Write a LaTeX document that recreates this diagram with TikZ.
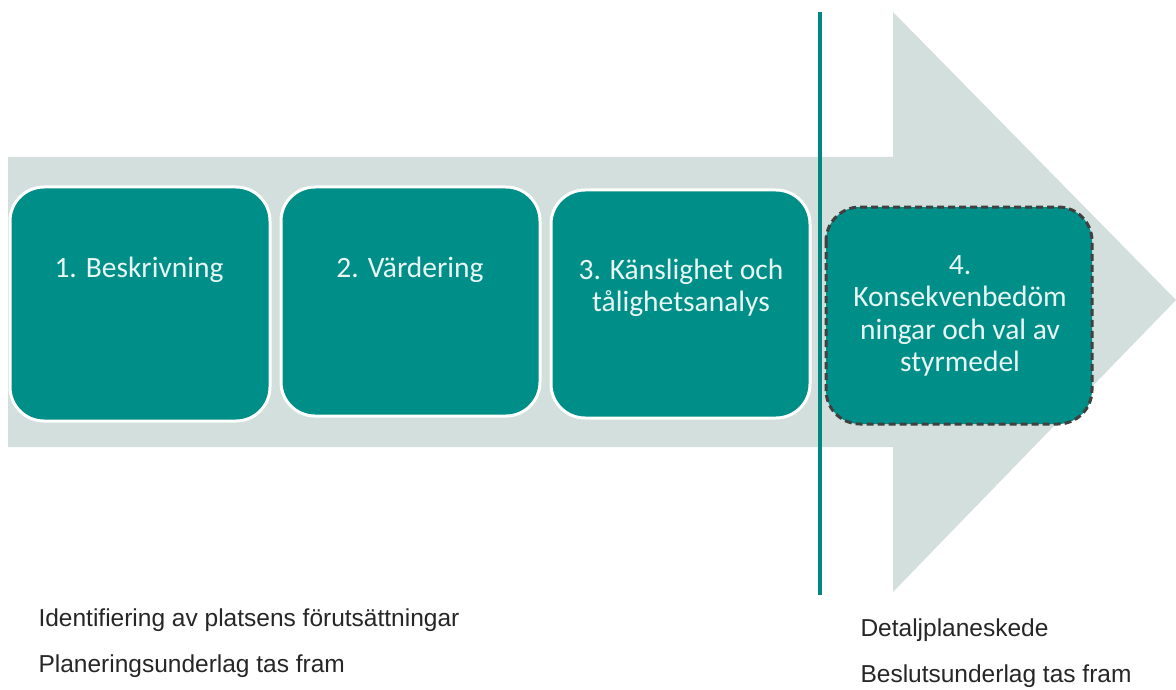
\documentclass[tikz,border=0pt]{standalone}
\usepackage{fontspec}
\setmainfont{Carlito}
\newfontfamily\arialfont{Liberation Sans}
\definecolor{teal1}{HTML}{008E88}
\definecolor{arrowgray}{HTML}{D2DFDD}
\definecolor{linecol}{HTML}{00877F}
\definecolor{dashcol}{HTML}{404040}
\definecolor{boxtext}{HTML}{E8F6F4}
\tikzset{
  stepbox/.style={fill=teal1, draw=white, line width=3pt, rounded corners=34pt},
  dashbox/.style={fill=teal1, draw=dashcol, line width=3pt, dash pattern=on 7pt off 4pt, rounded corners=34pt},
  boxlabel/.style={text=boxtext, font=\fontsize{29.5}{32.5}\selectfont, align=center},
  bottomlabel/.style={text=black!85, font=\arialfont\fontsize{24.5}{28}\selectfont, anchor=west}
}
\begin{document}
\begin{tikzpicture}[x=1pt,y=-1pt]
\useasboundingbox (0,0) rectangle (1176,690);
% big arrow
\path[fill=arrowgray] (8,157) -- (893,157) -- (893,12) -- (1176,300) -- (893,592) -- (893,447) -- (8,447) -- cycle;
% boxes
\draw[stepbox] (10,187) rectangle (270,421);
\draw[stepbox] (281,187) rectangle (540,416);
\draw[stepbox] (551,190) rectangle (810,418);
\draw[dashbox] (826,207) rectangle (1092,424);
\node[boxlabel] (b1) at (139,270) {1. Beskrivning};
\node[boxlabel] (b2) at (410,270) {2. Värdering};
\node[boxlabel] (b3) at (681,288) {3. Känslighet och\\tålighetsanalys};
\node[boxlabel] (b4) at (960,316) {4.\\Konsekvenbedöm\\ningar och val av\\styrmedel};
% vertical line
\coordinate (ltop) at (820,12);
\coordinate (lbot) at (820,595);
\draw[linecol, line width=4pt] (ltop) -- (lbot);
% bottom texts
\node[bottomlabel] (t1) at (35,620) {Identifiering av platsens förutsättningar};
\node[bottomlabel] (t2) at (35,666) {Planeringsunderlag tas fram};
\node[bottomlabel] (t3) at (857,630) {Detaljplaneskede};
\node[bottomlabel] (t4) at (857,676) {Beslutsunderlag tas fram};
\end{tikzpicture}
\end{document}
